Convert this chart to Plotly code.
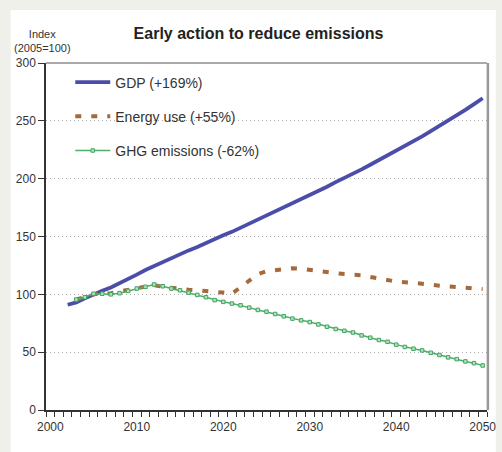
import plotly.graph_objects as go

years_gdp = list(range(2002, 2051))
gdp = [91, 93, 96.5, 100, 103, 106, 109.5, 113, 117, 121,
       124.5, 128, 131.5, 135, 138, 141, 144.5, 148, 151, 154,
       157.5, 161, 164.5, 168, 171.5, 175, 178.5, 182.5, 186, 189.5,
       193, 197, 200.5, 204, 208, 212, 216, 220, 224, 228,
       232, 236.5, 241, 245.5, 250, 254.5, 259.5, 264.5, 269.5]

years_other = list(range(2003, 2051))
energy = [95.5, 97.5, 100, 100.5, 101, 102.5, 104, 105.5, 107, 108,
          106.5, 105.5, 104.5, 104, 103.5, 103, 102.5, 101.5, 100.5, 106,
          112, 117.5, 120, 121, 122, 122.5, 122, 121, 120, 119,
          118.5, 117.5, 117, 116.5, 115, 113.5, 112, 111, 110.5, 110,
          109.5, 108.5, 107.5, 107, 106, 105.5, 105, 104.5]
ghg = [95.5, 97.5, 100.5, 100.5, 100, 101, 103, 105, 106.5, 108.5,
       107, 105, 103.5, 101.5, 99.5, 97.5, 95, 93.5, 92, 90.5,
       88.5, 86.5, 85, 83, 81, 79, 77.5, 76, 74, 72,
       70, 68.5, 67, 64.5, 62.5, 60.5, 59, 56.5, 54.5, 53,
       51.5, 49.5, 47.5, 45.5, 44, 42, 40.5, 38.5]

names = ["GDP (+169%)", "Energy use (+55%)", "GHG emissions (-62%)"]
x_ticks = [2000, 2010, 2020, 2030, 2040, 2050]
y_ticks = [0, 50, 100, 150, 200, 250, 300]

FONT = "Liberation Sans, Arial, sans-serif"

fig = go.Figure()
fig.add_trace(go.Scatter(x=years_gdp, y=gdp, name=names[0], mode="lines",
                         line=dict(color="#4a4ea8", width=3.8),
                         legendgroup="a"))
fig.add_trace(go.Scatter(x=years_other, y=energy, name=names[1], mode="lines",
                         line=dict(color="#a5693b", width=4, dash="6px,10px"),
                         legendgroup="b"))
fig.add_trace(go.Scatter(x=years_other, y=ghg, name=names[2], mode="lines+markers",
                         line=dict(color="#4cb06a", width=1.5),
                         marker=dict(symbol="square", size=3.5, color="#b5e2be",
                                     line=dict(color="#42a660", width=1)),
                         legendgroup="c"))

fig.update_layout(
    width=502, height=452,
    margin=dict(l=46, r=6, t=63, b=42),
    paper_bgcolor="#f0f0eb",
    plot_bgcolor="white",
    font=dict(family=FONT, size=12, color="#333333"),
    showlegend=True,
    legend=dict(x=0.055, y=0.99, xanchor="left", yanchor="top",
                bgcolor="rgba(0,0,0,0)", font=dict(size=14, color="#333333"),
                tracegroupgap=13, itemwidth=35),
    title=dict(text="<b>Early action to reduce emissions</b>",
               x=0.515, xanchor="center", y=0.927, yanchor="middle",
               font=dict(size=16, color="#222222", family=FONT)),
    shapes=[
        dict(type="rect", xref="paper", yref="paper", x0=-0.08, x1=1.02,
             y0=-0.13, y1=1.153, fillcolor="white", line=dict(width=0), layer="below"),
        dict(type="line", xref="paper", yref="paper", x0=0, x1=1, y0=1, y1=1,
             line=dict(color="#555555", width=1)),
        dict(type="line", xref="paper", yref="paper", x0=1.002, x1=1.002, y0=0, y1=1,
             line=dict(color="#999999", width=2.5)),
    ],
    annotations=[
        dict(text="Index<br>(2005=100)", xref="paper", yref="paper",
             x=-0.009, y=1.02, xanchor="center", yanchor="bottom", showarrow=False,
             font=dict(size=11, color="#333333"), align="center"),
    ],
)

fig.update_xaxes(range=[1999.5, 2050.5], tickvals=x_ticks, ticks="",
                 showgrid=False, zeroline=False, showline=True,
                 linecolor="#333333", linewidth=1.5,
                 ticklabelstandoff=5, ticklabeloverflow="allow",
                 minor=dict(ticks="outside", tick0=1999.5, dtick=1, ticklen=5,
                            tickcolor="#333333", showgrid=False),
                 tickfont=dict(size=12, color="#333333"))
fig.update_yaxes(range=[0, 300], tickvals=y_ticks, ticks="outside", ticklen=6,
                 tickcolor="#333333", showgrid=True, gridcolor="#aaaaaa",
                 griddash="1px,3px", gridwidth=1, zeroline=False, showline=True,
                 linecolor="#333333", linewidth=1.5,
                 tickfont=dict(size=12, color="#333333"))

fig.write_html("out.html")
